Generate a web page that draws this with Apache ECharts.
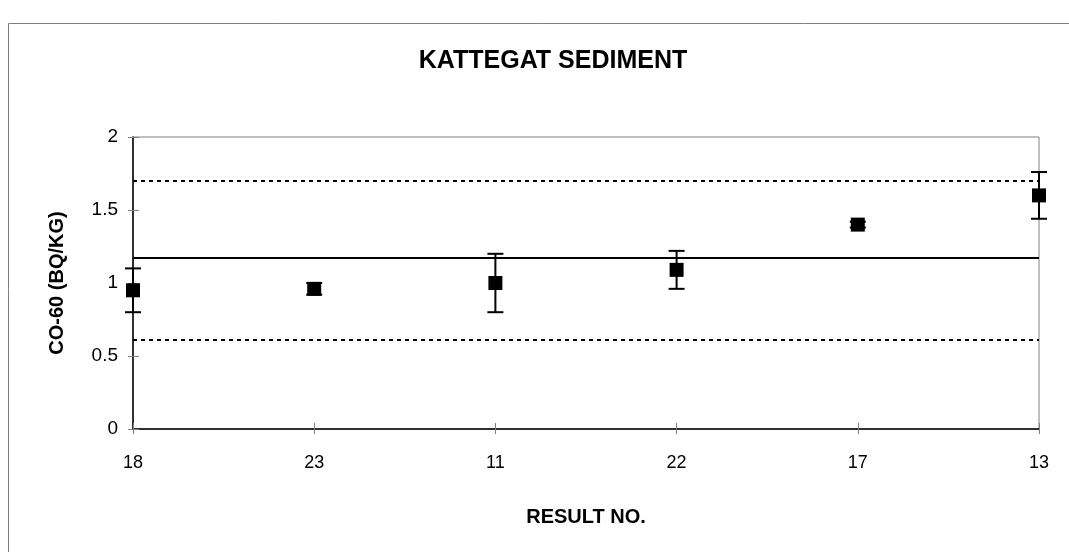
<!DOCTYPE html>
<html>
<head>
<meta charset="utf-8">
<title>KATTEGAT SEDIMENT</title>
<script src="https://cdn.jsdelivr.net/npm/echarts@6/dist/echarts.min.js"></script>
<style>
  html, body { margin: 0; padding: 0; background: #fff; }
  #chart { width: 1069px; height: 552px; }
</style>
</head>
<body>
<div id="chart"></div>
<script>
// Laboratory result numbers, in plotted order
const resultNos = ['18', '23', '11', '22', '17', '13'];
// Co-60 activity (Bq/kg) reported by each laboratory
const co60Values = [0.95, 0.96, 1.00, 1.09, 1.40, 1.60];
// Reported uncertainty (half-width of the error bar)
const co60Errors = [0.15, 0.04, 0.20, 0.13, 0.02, 0.16];
// Reference lines: overall mean and acceptance limits
const meanValue = 1.17;
const upperLimit = 1.70;
const lowerLimit = 0.61;
// Y axis range
const yMin = 0, yMax = 2, yStep = 0.5;

const FONT = '"Liberation Sans", Arial, sans-serif';
const chart = echarts.init(document.getElementById('chart'), null, { renderer: 'canvas' });

const errorData = co60Values.map((v, i) => [i, v - co60Errors[i], v + co60Errors[i]]);

function renderErrorBar(params, api) {
  const x = api.value(0);
  const lo = api.coord([x, api.value(1)]);
  const hi = api.coord([x, api.value(2)]);
  const half = 8;
  const style = { stroke: '#000', lineWidth: 2 };
  return {
    type: 'group',
    children: [
      { type: 'line', shape: { x1: hi[0], y1: hi[1], x2: lo[0], y2: lo[1] }, style },
      { type: 'line', shape: { x1: hi[0] - half, y1: hi[1], x2: hi[0] + half, y2: hi[1] }, style },
      { type: 'line', shape: { x1: lo[0] - half, y1: lo[1], x2: lo[0] + half, y2: lo[1] }, style }
    ]
  };
}

const option = {
  backgroundColor: '#fff',
  animation: false,
  title: {
    text: 'KATTEGAT SEDIMENT',
    left: 548,
    top: 44,
    textAlign: 'center',
    textStyle: { fontFamily: FONT, fontSize: 25, fontWeight: 'bold', color: '#000' }
  },
  graphic: [
    {
      type: 'rect',
      shape: { x: 8.5, y: 23.5, width: 1070, height: 540 },
      style: { fill: 'none', stroke: '#7f7f7f', lineWidth: 1 },
      z: -1
    }
  ],
  grid: {
    left: 133, top: 137, width: 906, height: 292,
    show: true, borderColor: '#808080', borderWidth: 1, backgroundColor: 'transparent'
  },
  xAxis: [
    {
      type: 'category',
      data: resultNos,
      boundaryGap: false,
      name: 'RESULT NO.',
      nameLocation: 'middle',
      nameGap: 78,
      nameTextStyle: { fontFamily: FONT, fontSize: 20, fontWeight: 'bold', color: '#000' },
      axisLine: { lineStyle: { color: '#000', width: 1.5 } },
      axisTick: { show: true, alignWithLabel: true, length: 5, lineStyle: { color: '#808080' } },
      axisLabel: { fontFamily: FONT, fontSize: 18, color: '#000', margin: 25 },
      splitLine: { show: false }
    },
    {
      type: 'category',
      data: resultNos,
      boundaryGap: false,
      position: 'bottom',
      axisLine: { show: false },
      axisTick: { show: true, inside: true, length: 6, lineStyle: { color: '#808080' } },
      axisLabel: { show: false },
      splitLine: { show: false }
    }
  ],
  yAxis: [
    {
      type: 'value',
      min: yMin, max: yMax, interval: yStep,
      name: 'CO-60 (BQ/KG)',
      nameLocation: 'middle',
      nameGap: 66,
      nameRotate: 90,
      nameTextStyle: { fontFamily: FONT, fontSize: 20, fontWeight: 'bold', color: '#000' },
      axisLine: { show: true, lineStyle: { color: '#000', width: 1.5 } },
      axisTick: { show: true, length: 5, lineStyle: { color: '#808080' } },
      axisLabel: { fontFamily: FONT, fontSize: 19, color: '#000', margin: 15 },
      splitLine: { show: false }
    },
    {
      type: 'value',
      min: yMin, max: yMax, interval: yStep,
      position: 'left',
      axisLine: { show: false },
      axisTick: { show: true, inside: true, length: 6, lineStyle: { color: '#808080' } },
      axisLabel: { show: false },
      splitLine: { show: false }
    }
  ],
  series: [
    {
      name: 'limits',
      type: 'line',
      data: [],
      markLine: {
        silent: true,
        symbol: 'none',
        label: { show: false },
        data: [
          { yAxis: meanValue, lineStyle: { color: '#000', width: 2, type: 'solid' } },
          { yAxis: upperLimit, lineStyle: { color: '#000', width: 2, type: [4, 4] } },
          { yAxis: lowerLimit, lineStyle: { color: '#000', width: 2, type: [4, 4] } }
        ]
      }
    },
    {
      name: 'uncertainty',
      type: 'custom',
      renderItem: renderErrorBar,
      data: errorData,
      encode: { x: 0, y: [1, 2] },
      z: 3
    },
    {
      name: 'Co-60',
      type: 'scatter',
      data: co60Values,
      symbol: 'rect',
      symbolSize: 14,
      itemStyle: { color: '#000', opacity: 1 },
      z: 4
    }
  ]
};

chart.setOption(option);
</script>
</body>
</html>
